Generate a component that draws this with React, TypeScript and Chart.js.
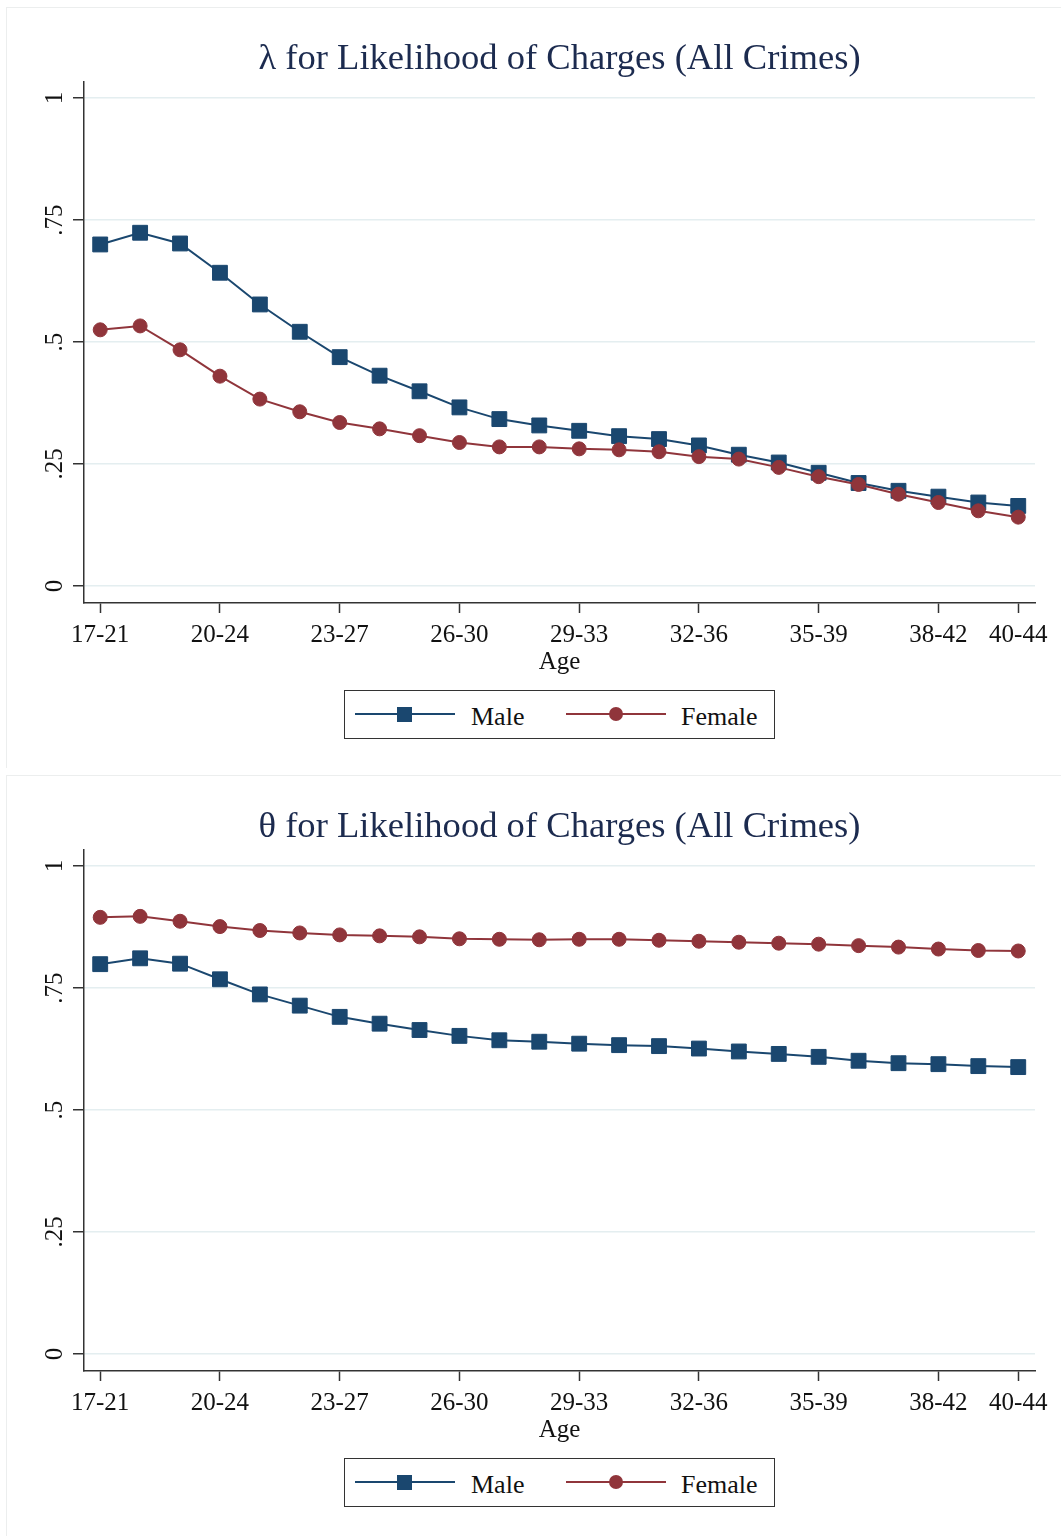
import React, { useEffect, useRef } from 'react';
import { Chart, registerables } from 'chart.js';

Chart.register(...registerables);

// ---------- data ----------
const ageGroups = [
  '17-21', '18-22', '19-23', '20-24', '21-25', '22-26', '23-27', '24-28',
  '25-29', '26-30', '27-31', '28-32', '29-33', '30-34', '31-35', '32-36',
  '33-37', '34-38', '35-39', '36-40', '37-41', '38-42', '39-43', '40-44',
];
const labeledTickIndices = [0, 3, 6, 9, 12, 15, 18, 21, 23];
const yTickValues = [0, 0.25, 0.5, 0.75, 1];
const yTickLabels = ['0', '.25', '.5', '.75', '1'];
const seriesNames = ['Male', 'Female'];
const xAxisTitle = 'Age';

const lambdaTitle = 'λ for Likelihood of Charges (All Crimes)';
const lambdaMale = [
  0.700, 0.724, 0.702, 0.642, 0.577, 0.521, 0.469, 0.431, 0.399, 0.366, 0.342, 0.329,
  0.318, 0.307, 0.301, 0.288, 0.269, 0.253, 0.232, 0.211, 0.195, 0.183, 0.171, 0.164,
];
const lambdaFemale = [
  0.525, 0.533, 0.484, 0.430, 0.383, 0.357, 0.335, 0.322, 0.308, 0.294, 0.285, 0.285,
  0.281, 0.279, 0.275, 0.265, 0.260, 0.243, 0.224, 0.208, 0.188, 0.171, 0.154, 0.141,
];

const thetaTitle = 'θ for Likelihood of Charges (All Crimes)';
const thetaMale = [
  0.799, 0.811, 0.800, 0.768, 0.737, 0.714, 0.691, 0.677, 0.664, 0.652, 0.643, 0.640,
  0.636, 0.633, 0.631, 0.626, 0.620, 0.615, 0.609, 0.601, 0.596, 0.594, 0.590, 0.588,
];
const thetaFemale = [
  0.895, 0.897, 0.887, 0.876, 0.868, 0.863, 0.859, 0.857, 0.855, 0.851, 0.850, 0.849,
  0.850, 0.850, 0.848, 0.846, 0.844, 0.842, 0.840, 0.837, 0.834, 0.830, 0.827, 0.826,
];

// ---------- style ----------
const FONT = '"Liberation Serif", "Times New Roman", Times, serif';
const MALE_COLOR = '#1a476f';
const FEMALE_COLOR = '#90353b';
const TITLE_COLOR = '#1c2b4f';
const TEXT_COLOR = '#111111';
const AXIS_COLOR = '#333333';
const GRID_COLOR = '#e4eef0';
const PANEL_BORDER = '#eceeee';

const CANVAS_W = 1061;
const CANVAS_H = 680;
const PANEL_H = 768;

const rotatedYLabels = {
  id: 'rotatedYLabels',
  afterDraw(chart: any) {
    const ys = chart.scales.y;
    const ctx = chart.ctx;
    ctx.save();
    ctx.fillStyle = TEXT_COLOR;
    ctx.font = `25px ${FONT}`;
    ctx.textAlign = 'center';
    ctx.textBaseline = 'alphabetic';
    yTickValues.forEach((v, i) => {
      const py = ys.getPixelForValue(v);
      ctx.save();
      ctx.translate(ys.right - 22, py);
      ctx.rotate(-Math.PI / 2);
      ctx.fillText(yTickLabels[i], 0, 0);
      ctx.restore();
    });
    ctx.restore();
  },
};

function Panel({ top, title, male, female }: { top: number; title: string; male: number[]; female: number[] }) {
  const ref = useRef<HTMLCanvasElement | null>(null);

  useEffect(() => {
    if (!ref.current) return;
    const chart = new Chart(ref.current, {
      type: 'line',
      data: {
        datasets: [
          {
            label: seriesNames[1],
            data: female.map((y, i) => ({ x: i, y })),
            borderColor: FEMALE_COLOR,
            backgroundColor: FEMALE_COLOR,
            borderWidth: 2,
            tension: 0,
            pointStyle: 'circle',
            pointRadius: 7,
            pointBackgroundColor: FEMALE_COLOR,
            pointBorderColor: FEMALE_COLOR,
            pointBorderWidth: 1,
            order: 0,
          },
          {
            label: seriesNames[0],
            data: male.map((y, i) => ({ x: i, y })),
            borderColor: MALE_COLOR,
            backgroundColor: MALE_COLOR,
            borderWidth: 2,
            tension: 0,
            pointStyle: 'rect',
            pointRadius: 10.5,
            pointBackgroundColor: MALE_COLOR,
            pointBorderColor: MALE_COLOR,
            pointBorderWidth: 1,
            order: 1,
          },
        ],
      },
      options: {
        animation: false,
        responsive: false,
        devicePixelRatio: 1,
        layout: { padding: { top: 0, left: 0, right: 26, bottom: 0 } },
        plugins: {
          legend: { display: false },
          tooltip: { enabled: false },
          title: {
            display: true,
            text: title,
            fullSize: false,
            color: TITLE_COLOR,
            font: { family: FONT, size: 36.6, weight: 'normal', lineHeight: 1.2 },
            padding: { top: 37, bottom: 1.1 },
          },
        },
        scales: {
          x: {
            type: 'linear',
            min: -0.406,
            max: 23.42,
            afterBuildTicks: (s: any) => {
              s.ticks = labeledTickIndices.map((v) => ({ value: v }));
            },
            afterFit: (s: any) => {
              s.height = CANVAS_H - 603;
            },
            ticks: {
              autoSkip: false,
              maxRotation: 0,
              minRotation: 0,
              padding: 7.5,
              color: TEXT_COLOR,
              font: { family: FONT, size: 25 },
              callback: (v: any) => ageGroups[Math.round(Number(v))] ?? '',
            },
            grid: {
              display: true,
              drawOnChartArea: false,
              drawTicks: true,
              tickLength: 10,
              tickColor: AXIS_COLOR,
              tickWidth: 1.5,
            },
            border: { display: true, color: AXIS_COLOR, width: 1.5 },
            title: {
              display: true,
              text: xAxisTitle,
              color: TEXT_COLOR,
              font: { family: FONT, size: 25, lineHeight: 1.2 },
              padding: { top: 0, bottom: 3 },
            },
          },
          y: {
            type: 'linear',
            min: -0.035,
            max: 1.033,
            afterBuildTicks: (s: any) => {
              s.ticks = yTickValues.map((v) => ({ value: v }));
            },
            afterFit: (s: any) => {
              s.width = 84;
            },
            ticks: { display: false },
            grid: {
              display: true,
              color: GRID_COLOR,
              lineWidth: 1.5,
              drawTicks: true,
              tickLength: 11,
              tickColor: AXIS_COLOR,
              tickWidth: 1.5,
            },
            border: { display: true, color: AXIS_COLOR, width: 1.5 },
          },
        },
      } as any,
      plugins: [rotatedYLabels],
    });
    return () => chart.destroy();
  }, [title, male, female]);

  return (
    <div style={{ position: 'absolute', left: 0, top, width: CANVAS_W, height: PANEL_H }}>
      <div
        style={{
          position: 'absolute',
          left: 6,
          top: 7,
          right: 0,
          bottom: 0,
          borderLeft: `1px solid ${PANEL_BORDER}`,
          borderTop: `1px solid ${PANEL_BORDER}`,
        }}
      />
      <canvas
        ref={ref}
        width={CANVAS_W}
        height={CANVAS_H}
        style={{ position: 'absolute', left: 0, top: 0, width: CANVAS_W, height: CANVAS_H }}
      />
      <div
        style={{
          position: 'absolute',
          left: 344,
          top: 690,
          width: 431,
          height: 49,
          boxSizing: 'border-box',
          border: `1.5px solid ${AXIS_COLOR}`,
          background: '#fff',
          fontFamily: FONT,
          fontSize: 26,
          color: TEXT_COLOR,
        }}
      >
        <div style={{ position: 'absolute', left: 10, top: 22, width: 100, height: 2, background: MALE_COLOR }} />
        <div style={{ position: 'absolute', left: 52, top: 15.5, width: 15, height: 15, background: MALE_COLOR }} />
        <div style={{ position: 'absolute', left: 126, top: 11, lineHeight: '30px', whiteSpace: 'nowrap' }}>{seriesNames[0]}</div>
        <div style={{ position: 'absolute', left: 221, top: 22, width: 100, height: 2, background: FEMALE_COLOR }} />
        <div
          style={{
            position: 'absolute',
            left: 264,
            top: 16,
            width: 14,
            height: 14,
            borderRadius: '50%',
            background: FEMALE_COLOR,
          }}
        />
        <div style={{ position: 'absolute', left: 336, top: 11, lineHeight: '30px', whiteSpace: 'nowrap' }}>{seriesNames[1]}</div>
      </div>
    </div>
  );
}

export default function App() {
  return (
    <div style={{ position: 'absolute', left: 0, top: 0, width: 1061, height: 1540, background: '#fff', overflow: 'hidden' }}>
      <Panel top={0} title={lambdaTitle} male={lambdaMale} female={lambdaFemale} />
      <Panel top={PANEL_H} title={thetaTitle} male={thetaMale} female={thetaFemale} />
    </div>
  );
}
